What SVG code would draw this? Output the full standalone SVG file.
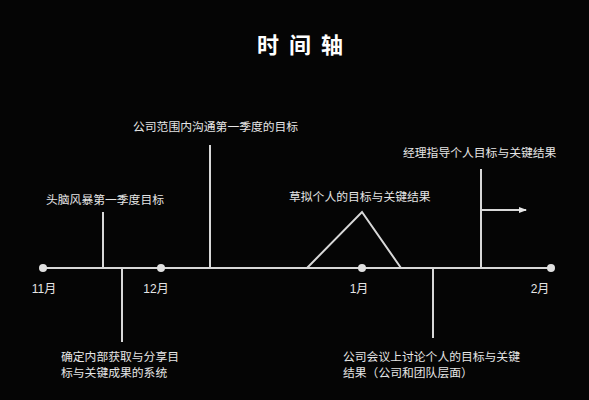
<svg xmlns="http://www.w3.org/2000/svg" width="589" height="400" viewBox="0 0 589 400">
<defs>
<style>
.t{font-family:"Noto Sans CJK SC","Noto Sans",sans-serif;font-size:11.8px;fill:#e6e6e6;dominant-baseline:central}
.m{font-family:"Liberation Sans","Noto Sans CJK SC",sans-serif;font-size:12px;fill:#e6e6e6;text-anchor:middle;dominant-baseline:central}
.ttl{font-family:"Noto Sans CJK SC",sans-serif;font-size:22px;font-weight:bold;fill:#ffffff;text-anchor:middle;dominant-baseline:central;letter-spacing:10px}
.ln{stroke:#d8d8d8;stroke-width:2;fill:none}
.dot{fill:#e0e0e0}
</style>
<marker id="ah" markerWidth="8" markerHeight="8" refX="7" refY="4" orient="auto" markerUnits="userSpaceOnUse">
<path d="M0,1 L8,4 L0,7 Z" fill="#e6e6e6"/>
</marker>
</defs>
<rect width="589" height="400" fill="#050505"/>
<text id="title" class="ttl" x="305" y="43">时间轴</text>
<g id="connectors">
<line class="ln" x1="43" y1="268" x2="551" y2="268"/>
<line class="ln" x1="103" y1="212" x2="103" y2="268"/>
<line class="ln" x1="210" y1="145" x2="210" y2="268"/>
<line class="ln" x1="122" y1="268" x2="122" y2="342"/>
<polyline class="ln" points="307,268 362,212 401,268"/>
<line class="ln" x1="481" y1="169" x2="481" y2="268"/>
<line class="ln" x1="481" y1="210" x2="526" y2="210" marker-end="url(#ah)"/>
<line class="ln" x1="433" y1="268" x2="433" y2="338"/>
</g>
<g id="nov"><circle class="dot" cx="43" cy="268" r="4"/><text class="m" x="44" y="289">11月</text></g>
<g id="dec"><circle class="dot" cx="161" cy="268" r="4"/><text class="m" x="156" y="289">12月</text></g>
<g id="jan"><circle class="dot" cx="362" cy="268" r="4"/><text class="m" x="359" y="289">1月</text></g>
<g id="feb"><circle class="dot" cx="551" cy="268" r="4"/><text class="m" x="540" y="289">2月</text></g>
<g id="brainstorm"><text class="t" x="46" y="198">头脑风暴第一季度目标</text></g>
<g id="companywide"><text class="t" x="133" y="125">公司范围内沟通第一季度的目标</text></g>
<g id="draft"><text class="t" x="289" y="195">草拟个人的目标与关键结果</text></g>
<g id="manager"><text class="t" x="403" y="151">经理指导个人目标与关键结果</text></g>
<g id="system"><text class="t" x="61" y="355">确定内部获取与分享目</text><text class="t" x="61" y="371">标与关键成果的系统</text></g>
<g id="meeting"><text class="t" x="343" y="355">公司会议上讨论个人的目标与关键</text><text class="t" x="343" y="371">结果（公司和团队层面）</text></g>
</svg>
